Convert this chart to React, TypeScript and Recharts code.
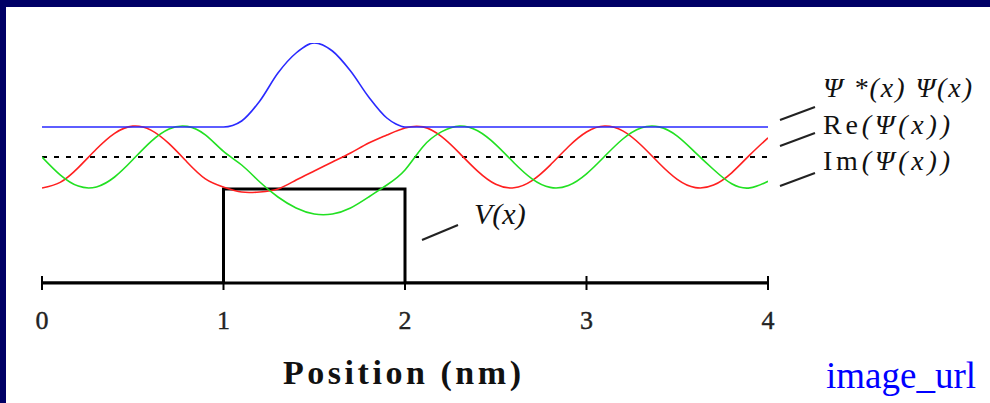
import React from 'react';
import { LineChart, Line, XAxis, YAxis, ReferenceLine } from 'recharts';

// position in nm
const xTicks = [0, 1, 2, 3, 4];

const xSamples = [
  0, 0.1, 0.2, 0.3, 0.4, 0.5, 0.6, 0.7, 0.8, 0.9,
  1.0, 1.1, 1.2, 1.3, 1.4, 1.5, 1.6, 1.7, 1.8, 1.9,
  2.0, 2.1, 2.2, 2.3, 2.4, 2.5, 2.6, 2.7, 2.8, 2.9,
  3.0, 3.1, 3.2, 3.3, 3.4, 3.5, 3.6, 3.7, 3.8, 3.9, 4.0,
];

const reValues = [
  9.5, 10.06, 11.54, 13.4, 14.97, 15.69, 15.29, 13.93, 12.08, 10.42,
  9.6, 9.1, 9.1, 9.4, 10.3, 11.2, 12.1, 13.0, 14.0, 14.8,
  15.5, 15.61, 14.66, 12.99, 11.19, 9.87, 9.52, 10.24, 11.79, 13.63,
  15.1, 15.7, 15.21, 13.8, 11.98, 10.37, 9.54, 9.79, 11.02, 12.81, 14.52,
];

const imValues = [
  12.6, 10.82, 9.69, 9.61, 10.6, 12.32, 14.14, 15.4, 15.66, 14.81,
  13.16, 11.8, 10.1, 8.6, 7.5, 6.9, 6.9, 7.5, 8.6, 9.8,
  11.3, 13.66, 15.11, 15.7, 15.22, 13.84, 12.03, 10.42, 9.56, 9.75,
  10.92, 12.67, 14.4, 15.5, 15.61, 14.69, 13.04, 11.35, 9.92, 9.51, 10.17,
];

// probability density, flat outside the barrier
const probX = [0, 1.0, 1.05, 1.1, 1.2, 1.3, 1.4, 1.5, 1.6, 1.7, 1.8, 1.9, 1.95, 2.0, 4.0];
const probValues = [15.6, 15.6, 15.75, 16.2, 18.2, 21.0, 23.0, 24.0, 23.2, 21.2, 18.6, 16.5, 15.9, 15.6, 15.6];

// square barrier V(x)
const potX = [0, 1, 1, 2, 2, 4];
const potValues = [0, 0, 9.4, 9.4, 0, 0];

const energyLevel = 12.6;

const waveData = xSamples.map((x, i) => ({ x, re: reValues[i], im: imValues[i] }));
const probData = probX.map((x, i) => ({ x, p: probValues[i] }));
const potData = potX.map((x, i) => ({ x, v: potValues[i] }));

const serif = '"Liberation Serif", "Times New Roman", serif';

const TickMark = (props: any) => {
  const { x, y, payload } = props;
  return (
    <g>
      <line x1={x} x2={x} y1={y - 7} y2={y + 7} stroke="#000" strokeWidth={2} />
      <text
        x={x}
        y={y + 46}
        textAnchor="middle"
        style={{ fontFamily: serif, fontSize: 26 }}
        fill="#222"
        stroke="#222"
        strokeWidth={0.4}
      >
        {payload.value}
      </text>
    </g>
  );
};

const App = () => {
  return (
    <div style={{ position: 'relative', width: 990, height: 403, background: '#000066', overflow: 'hidden' }}>
      <style>{`body{margin:0}`}</style>
      <div style={{ position: 'absolute', left: 6, top: 7, width: 984, height: 396, background: '#fff' }} />
      <div style={{ position: 'absolute', left: 0, top: 0 }}>
        <LineChart width={990} height={403} margin={{ top: 43, right: 222, bottom: 60, left: 42 }}>
          <XAxis
            type="number"
            dataKey="x"
            domain={[0, 4]}
            ticks={xTicks}
            allowDataOverflow
            height={60}
            axisLine={{ stroke: '#000', strokeWidth: 3 }}
            tickLine={false}
            tickSize={0}
            tickMargin={0}
            tick={<TickMark />}
          />
          <YAxis type="number" domain={[0, 24]} hide allowDataOverflow />
          <ReferenceLine y={energyLevel} stroke="#000" strokeWidth={2} strokeDasharray="5 7" />
          <Line
            data={potData}
            dataKey="v"
            type="linear"
            stroke="#000"
            strokeWidth={3}
            dot={false}
            isAnimationActive={false}
          />
          <Line
            data={waveData}
            dataKey="re"
            type="natural"
            stroke="#ff2020"
            strokeWidth={1.6}
            dot={false}
            isAnimationActive={false}
          />
          <Line
            data={waveData}
            dataKey="im"
            type="natural"
            stroke="#22e022"
            strokeWidth={1.6}
            dot={false}
            isAnimationActive={false}
          />
          <Line
            data={probData}
            dataKey="p"
            type="monotone"
            stroke="#2a2aff"
            strokeWidth={1.6}
            dot={false}
            isAnimationActive={false}
          />
        </LineChart>
      </div>
      <svg width={990} height={403} style={{ position: 'absolute', left: 0, top: 0, pointerEvents: 'none' }}>
        <g stroke="#222" strokeWidth={2}>
          <line x1={780} y1={120} x2={815} y2={107} />
          <line x1={780} y1={146} x2={815} y2={133} />
          <line x1={780} y1={186} x2={815} y2={173} />
          <line x1={422} y1={240} x2={458} y2={225} />
        </g>
        <g fontFamily={serif} fill="#111" fontSize={28}>
          <text x={823} y={97} textLength={149} lengthAdjust="spacing">
            <tspan fontStyle="italic">Ψ *(x) Ψ(x)</tspan>
          </text>
          <text x={823} y={134} textLength={127} lengthAdjust="spacing">
            Re<tspan fontStyle="italic">(Ψ(x))</tspan>
          </text>
          <text x={823} y={170} textLength={127} lengthAdjust="spacing">
            Im<tspan fontStyle="italic">(Ψ(x))</tspan>
          </text>
          <text x={474} y={224} fontStyle="italic" fontSize={30}>
            V(x)
          </text>
        </g>
        <text x={283} y={384} fontFamily={serif} fontWeight="bold" fontSize={34} fill="#111" textLength={238} lengthAdjust="spacing">
          Position (nm)
        </text>
        <text x={826} y={388} fontFamily={serif} fontSize={37} fill="#0000ff">
          image_url
        </text>
      </svg>
    </div>
  );
};

export default App;
